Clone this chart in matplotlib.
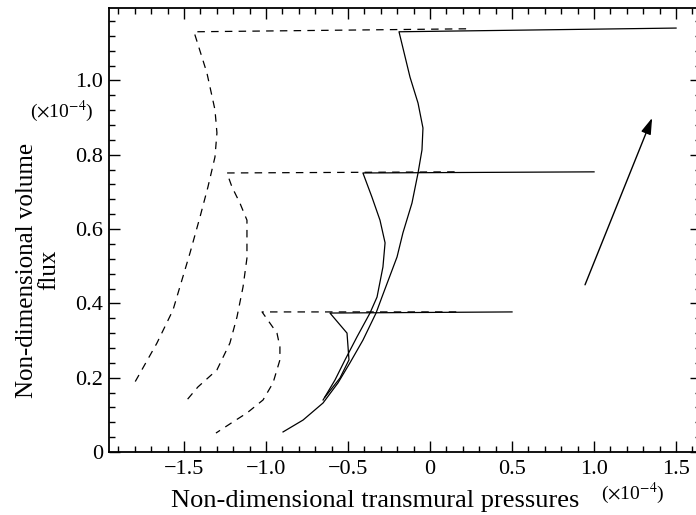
import matplotlib
matplotlib.use('Agg')
import matplotlib.pyplot as plt
from matplotlib.ticker import MultipleLocator, FuncFormatter

plt.rcParams['font.family'] = ['Liberation Serif', 'DejaVu Serif']
plt.rcParams['mathtext.fontset'] = 'stix'

# dashed curves (x: transmural pressure, y: volume flux, both x1e-4)
dash1_x = [0.22, -1.439, -1.360, -1.311, -1.299, -1.311, -1.354, -1.402, -1.463, -1.567, -1.665, -1.799]
dash1_y = [1.139, 1.131, 1.020, 0.921, 0.859, 0.794, 0.713, 0.633, 0.536, 0.382, 0.293, 0.188]
dash2_x = [0.15, -1.238, -1.207, -1.159, -1.116, -1.116, -1.116, -1.140, -1.177, -1.220, -1.299, -1.415, -1.482]
dash2_y = [0.754, 0.751, 0.713, 0.670, 0.624, 0.571, 0.522, 0.444, 0.363, 0.293, 0.221, 0.175, 0.140]
dash3_x = [0.16, -1.024, -0.933, -0.915, -0.915, -0.957, -1.018, -1.116, -1.201, -1.305]
dash3_y = [0.377, 0.377, 0.320, 0.283, 0.248, 0.186, 0.140, 0.105, 0.081, 0.051]

# solid curves
solid1_x = [1.50, -0.189, -0.122, -0.073, -0.043, -0.049, -0.073, -0.110, -0.165, -0.201,
            -0.293, -0.329, -0.409, -0.488, -0.561, -0.652, -0.774, -0.896]
solid1_y = [1.141, 1.131, 1.009, 0.939, 0.872, 0.813, 0.751, 0.670, 0.590, 0.525,
            0.417, 0.374, 0.301, 0.240, 0.186, 0.132, 0.086, 0.054]
solid2_x = [1.00, -0.409, -0.354, -0.305, -0.274, -0.287, -0.323, -0.366, -0.445, -0.518, -0.579, -0.652]
solid2_y = [0.754, 0.751, 0.686, 0.624, 0.563, 0.498, 0.417, 0.374, 0.310, 0.248, 0.194, 0.140]
solid3_x = [0.50, -0.610, -0.506, -0.494, -0.549, -0.640]
solid3_y = [0.377, 0.374, 0.320, 0.248, 0.199, 0.148]

arrow_start = (0.945, 0.450)
arrow_end = (1.354, 0.899)

x_ticks = [-1.5, -1.0, -0.5, 0, 0.5, 1.0, 1.5]
y_ticks = [0, 0.2, 0.4, 0.6, 0.8, 1.0]

fig = plt.figure(figsize=(6.96, 5.15), dpi=100)
ax = fig.add_axes([109 / 696, 1 - 452 / 515, (701 - 109) / 696, (452 - 8) / 515])

lw = 0.9
for xs, ys in [(dash1_x, dash1_y), (dash2_x, dash2_y), (dash3_x, dash3_y)]:
    ax.plot(xs, ys, color='black', lw=lw, linestyle=(0, (6, 5)))
for xs, ys in [(solid1_x, solid1_y), (solid2_x, solid2_y), (solid3_x, solid3_y)]:
    ax.plot(xs, ys, color='black', lw=lw)

ax.annotate('', xy=arrow_end, xytext=arrow_start,
            arrowprops=dict(arrowstyle='-|>,head_length=0.7,head_width=0.22', color='black', lw=1.0,
                            mutation_scale=14, shrinkA=0, shrinkB=0))

ax.set_xlim(-1.957, 1.652)
ax.set_ylim(0, 1.195)

ax.set_xticks(x_ticks)
ax.set_yticks(y_ticks)
ax.xaxis.set_minor_locator(MultipleLocator(0.1))
ax.yaxis.set_minor_locator(MultipleLocator(0.04))
fmt = FuncFormatter(lambda v, p: '0' if abs(v) < 1e-9 else ('%.1f' % v).replace('-', '\u2212'))
ax.xaxis.set_major_formatter(fmt)
ax.yaxis.set_major_formatter(fmt)

ax.tick_params(which='both', direction='in', top=True, right=True, width=1.0, labelsize=16)
ax.tick_params(which='major', length=8)
ax.tick_params(which='minor', length=4)
ax.tick_params(axis='x', pad=6)
ax.tick_params(axis='y', pad=4)
for s in ax.spines.values():
    s.set_linewidth(1.3)

ax.set_xlabel('Non-dimensional transmural pressures', fontsize=19)
ax.xaxis.set_label_coords((375 - 109) / (701 - 109), -0.085)
ax.set_ylabel('Non-dimensional volume\nflux', fontsize=18, linespacing=1.0)
ax.yaxis.set_label_coords((60 - 109) / (701 - 109), (452 - 270) / 444)

fig.text(62 / 696, 1 - 111 / 515, r'($\times$10$^{-4}$)', fontsize=14, ha='center', va='center')
fig.text(633 / 696, 1 - 493 / 515, r'($\times$10$^{-4}$)', fontsize=14, ha='center', va='center')

fig.savefig('out.png', dpi=100)
